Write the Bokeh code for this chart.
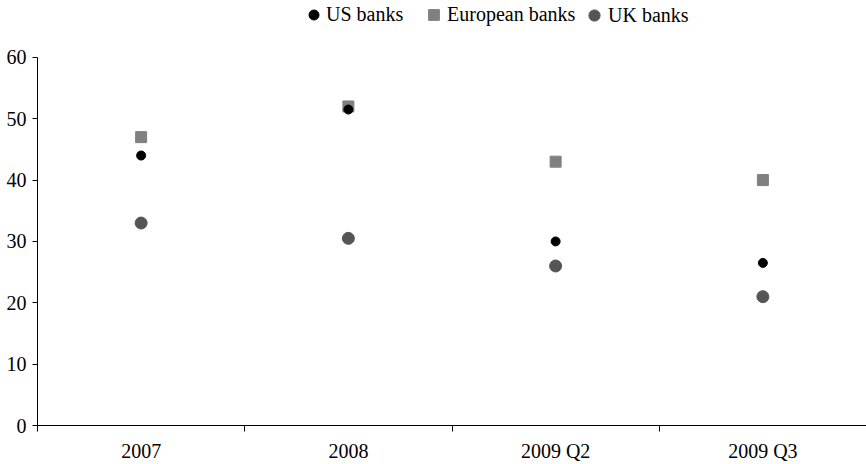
from bokeh.plotting import figure
from bokeh.models import (Range1d, FixedTicker, CustomJSTickFormatter, Legend, LegendItem,
                          ColumnDataSource)
from bokeh.embed import file_html
from bokeh.resources import INLINE

categories = ["2007", "2008", "2009 Q2", "2009 Q3"]
us_banks = [44, 51.5, 30, 26.5]
european_banks = [47, 52, 43, 40]
uk_banks = [33, 30.5, 26, 21]
y_ticks = [0, 10, 20, 30, 40, 50, 60]

FONT = "Liberation Serif"
FS = "20px"

xpos = [i + 0.5 for i in range(len(categories))]
src = ColumnDataSource(dict(x=xpos, us=us_banks, eu=european_banks, uk=uk_banks))

p = figure(width=866, height=464, output_backend="svg", toolbar_location=None,
           x_range=Range1d(0, len(categories)), y_range=Range1d(0, 69.27),
           min_border_left=37, min_border_right=0, min_border_top=0, min_border_bottom=38)
p.outline_line_color = None
p.xgrid.visible = False
p.ygrid.visible = False
p.background_fill_color = "white"
p.border_fill_color = "white"

r_uk = p.scatter("x", "uk", source=src, marker="circle", size=12, color="#555555")
r_eu = p.scatter("x", "eu", source=src, marker="square", size=11, color="#808080")
r_us = p.scatter("x", "us", source=src, marker="circle", size=9, color="#000000")

xa = p.xaxis[0]
xa.ticker = FixedTicker(ticks=xpos, minor_ticks=list(range(len(categories) + 1)))
xa.formatter = CustomJSTickFormatter(args=dict(cats=categories),
                                     code="return cats[Math.round(tick - 0.5)];")
xa.major_tick_line_color = None
xa.minor_tick_in = 0
xa.minor_tick_out = 6
xa.minor_tick_line_color = "black"
xa.axis_line_color = "black"
xa.major_label_text_font = FONT
xa.major_label_text_font_size = FS
xa.major_label_text_color = "black"
xa.major_label_standoff = 8

ya = p.yaxis[0]
ya.ticker = FixedTicker(ticks=y_ticks, minor_ticks=[])
ya.bounds = (min(y_ticks), max(y_ticks))
ya.major_tick_in = 0
ya.major_tick_out = 5
ya.major_tick_line_color = "black"
ya.axis_line_color = "black"
ya.major_label_text_font = FONT
ya.major_label_text_font_size = FS
ya.major_label_text_color = "black"
ya.major_label_standoff = 6


def one_legend(label, rend, glyph, loc):
    lg = Legend(items=[LegendItem(label=label, renderers=[rend])],
                location=loc, border_line_color=None, background_fill_alpha=0,
                label_text_font=FONT, label_text_font_size=FS, label_text_color="black",
                glyph_width=glyph, glyph_height=glyph, label_standoff=0,
                padding=0, margin=0)
    p.add_layout(lg, "center")


one_legend("US banks", r_us, 25, (264, 398))
one_legend("European banks", r_eu, 27, (383, 397))
one_legend("UK banks", r_uk, 28, (543, 396))

open("out.html", "w").write(file_html(p, INLINE))
